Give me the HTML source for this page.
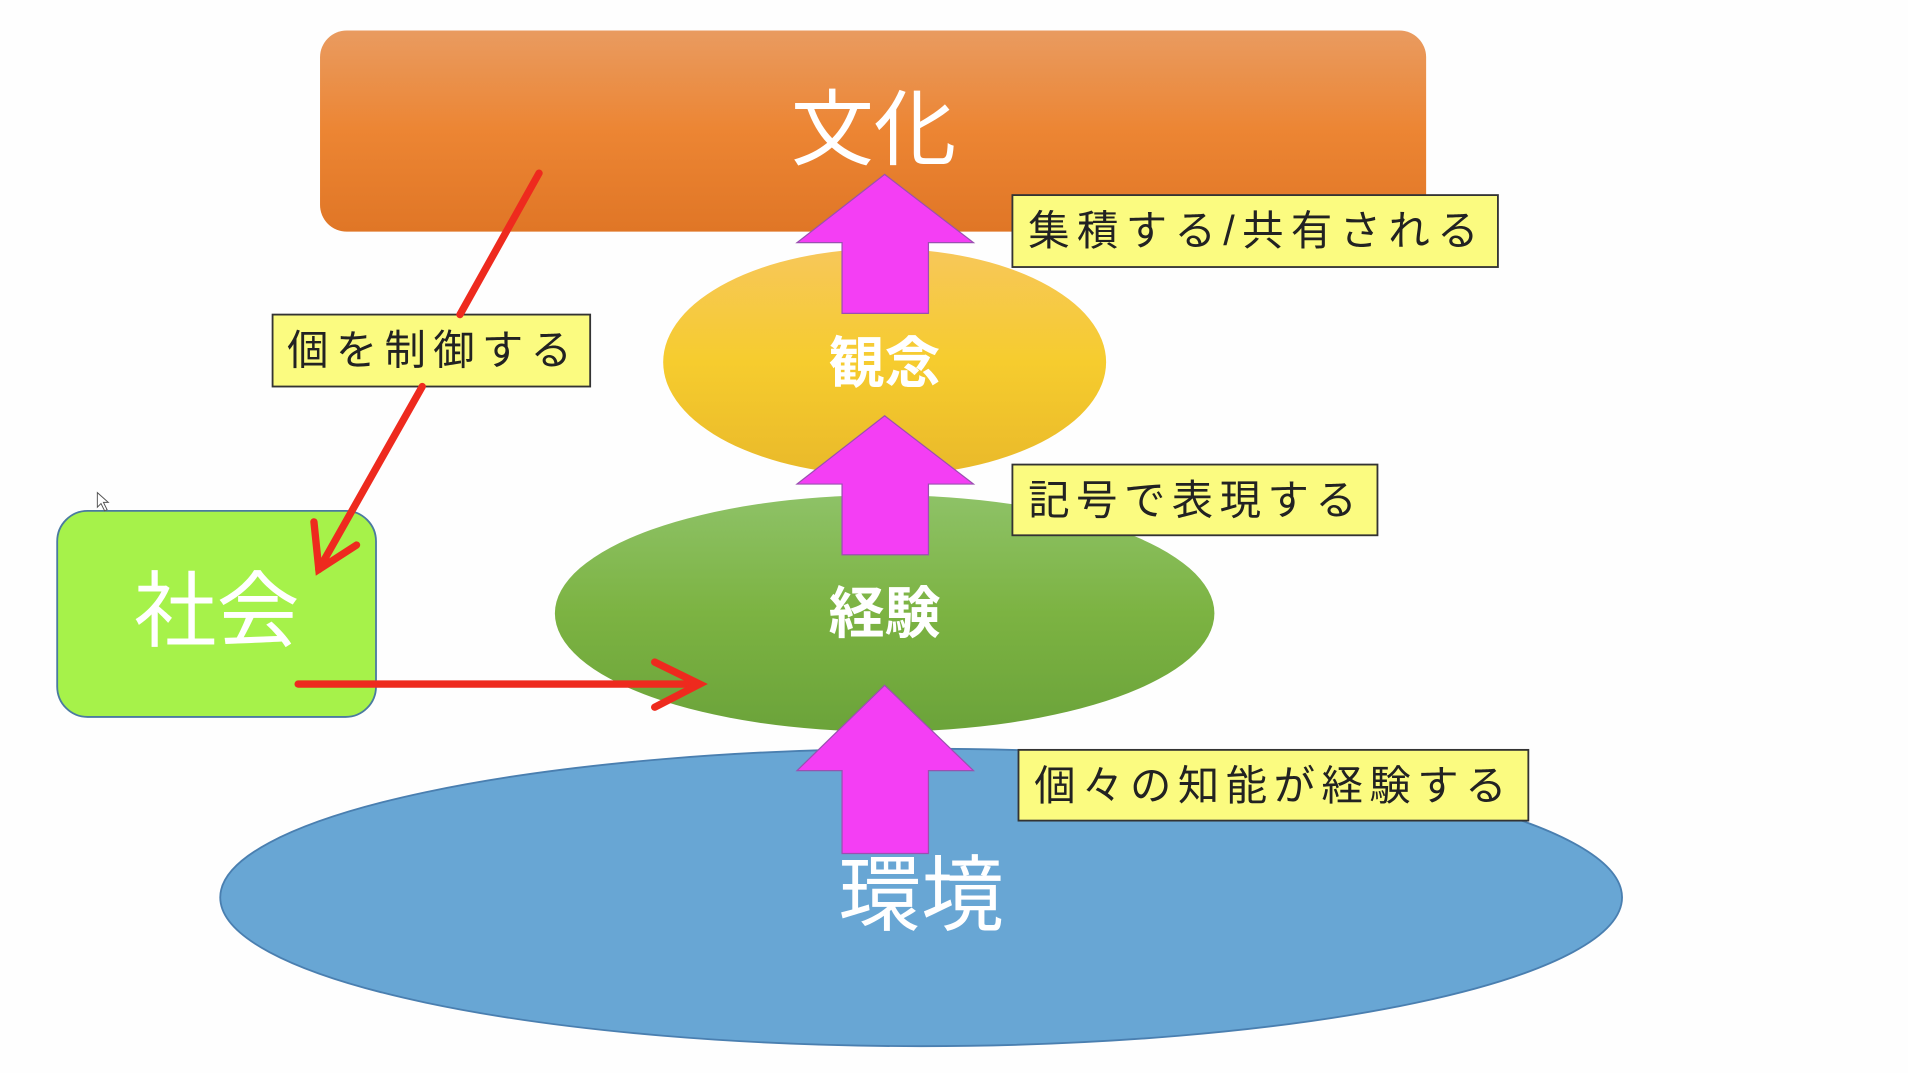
<!DOCTYPE html>
<html><head><meta charset="utf-8"><style>
html,body{margin:0;padding:0;background:#fff;overflow:hidden}
text{font-family:"Liberation Sans","Noto Sans CJK JP",sans-serif}
</style></head><body>
<svg width="1908" height="1073" viewBox="0 0 1568 880" preserveAspectRatio="none" xmlns="http://www.w3.org/2000/svg">
<defs>
<linearGradient id="og" x1="0" y1="0" x2="0" y2="1"><stop offset="0" stop-color="#e99b60"/><stop offset="0.5" stop-color="#ec8533"/><stop offset="1" stop-color="#e07626"/></linearGradient>
<linearGradient id="yg" x1="0" y1="0" x2="0" y2="1"><stop offset="0" stop-color="#f7c75a"/><stop offset="0.5" stop-color="#f6cc2e"/><stop offset="1" stop-color="#e9b92a"/></linearGradient>
<linearGradient id="gg" x1="0" y1="0" x2="0" y2="1"><stop offset="0" stop-color="#8ec267"/><stop offset="0.5" stop-color="#7cb342"/><stop offset="1" stop-color="#6ba33a"/></linearGradient>
</defs>
<rect x="0" y="0" width="1568" height="880" fill="#fefefe"/>
<ellipse cx="757" cy="736" rx="576" ry="122" fill="#68a6d4" stroke="#4a7fb0" stroke-width="1.5"/>
<rect x="263" y="25" width="909" height="165" rx="22" fill="url(#og)"/>
<text x="718" y="130" font-size="68" fill="#fff" text-anchor="middle">文化</text>
<ellipse cx="727" cy="297" rx="182" ry="93" fill="url(#yg)"/>
<text x="727" y="314" font-size="46" font-weight="bold" fill="#fff" text-anchor="middle">観念</text>
<ellipse cx="727" cy="503" rx="271" ry="97" fill="url(#gg)"/>
<text x="727" y="519" font-size="46" font-weight="bold" fill="#fff" text-anchor="middle">経験</text>
<text x="757" y="758" font-size="68" fill="#fff" text-anchor="middle">環境</text>
<rect x="47" y="419" width="262" height="169" rx="25" fill="#a6f24a" stroke="#4a7aa0" stroke-width="1.5"/>
<text x="178" y="525" font-size="68" fill="#fff" text-anchor="middle">社会</text>
<g fill="#f43ef4" stroke="#9a50b0" stroke-width="1">
<polygon points="727,143 800,199 763,199 763,257 692,257 692,199 655,199"/>
<polygon points="727,341 800,397 763,397 763,455 692,455 692,397 655,397"/>
<polygon points="727,562 800,632 763,632 763,700 692,700 692,632 655,632"/>
</g>
<g fill="#fbfb80" stroke="#333" stroke-width="1.5">
<rect x="832" y="160" width="399" height="59"/>
<rect x="832" y="381" width="300" height="58"/>
<rect x="837" y="615" width="419" height="58"/>
<rect x="224" y="258" width="261" height="59"/>
</g>
<g font-size="34" fill="#222">
<text x="845" y="201" textLength="370">集積する/共有される</text>
<text x="845" y="422" textLength="270">記号で表現する</text>
<text x="850" y="656" textLength="388">個々の知能が経験する</text>
<text x="236" y="299" textLength="234">個を制御する</text>
</g>
<g stroke="#ee2a1e" stroke-width="6" fill="none" stroke-linecap="round">
<line x1="443" y1="142" x2="378" y2="258"/>
<line x1="347" y1="317" x2="262" y2="467"/>
<polyline points="258,428 262,467 293,447"/>
<line x1="245" y1="561" x2="573" y2="561"/>
<polyline points="538,543 575,561 538,580"/>
</g>
<polygon points="80,404 80,416 83,413 86,419 88,418 85,412 89,412" fill="#fff" stroke="#555" stroke-width="0.8"/>
</svg>
</body></html>
